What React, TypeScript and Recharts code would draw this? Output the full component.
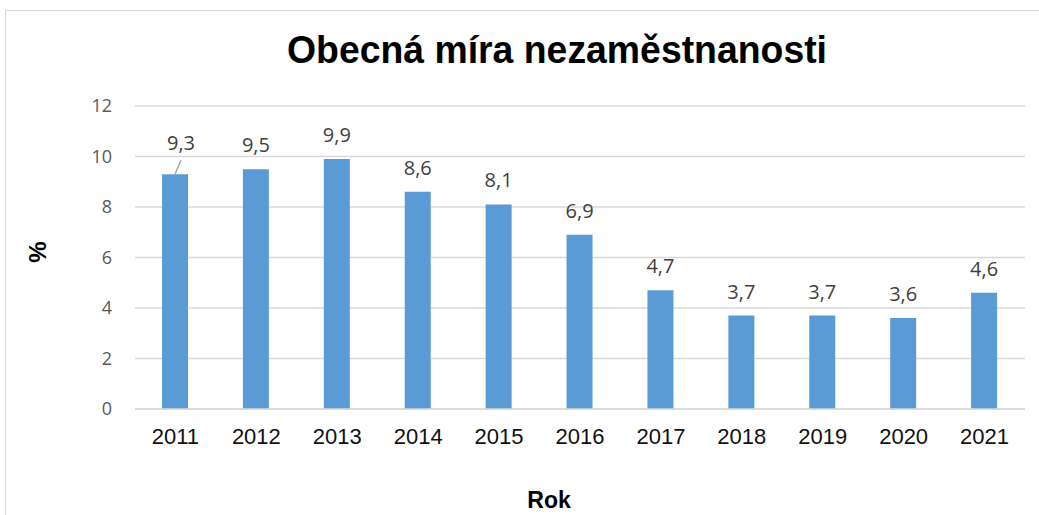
import { Bar, BarChart, CartesianGrid, XAxis, YAxis } from 'recharts';

const years = ['2011', '2012', '2013', '2014', '2015', '2016', '2017', '2018', '2019', '2020', '2021'];
const rates = [9.3, 9.5, 9.9, 8.6, 8.1, 6.9, 4.7, 3.7, 3.7, 3.6, 4.6];
const yTicks = [0, 2, 4, 6, 8, 10, 12];

const data = years.map((year, i) => ({ year, rate: rates[i] }));

const BAR = '#5B9BD5';
const GRID = '#d9d9d9';
const humanist = '"Open Sans", Lato, sans-serif';
const arial = '"Liberation Sans", Arial, sans-serif';

function ValueLabel(props: any) {
  const { x, y, width, value, index } = props;
  const cx = Number(x) + Number(width) / 2;
  const top = Number(y);
  const text = String(value).replace('.', ',');
  // first label sits a bit higher with a leader line, like in Excel
  if (index === 0) {
    return (
      <g>
        <line x1={cx} y1={top} x2={cx + 6} y2={top - 14} stroke="#a6a6a6" strokeWidth={1.5} />
        <text x={cx + 6} y={top - 24} textAnchor="middle" fontSize={20} fill="#404040" fontFamily={humanist}>
          {text}
        </text>
      </g>
    );
  }
  return (
    <text x={cx} y={top - 17} textAnchor="middle" fontSize={20} fill="#404040" fontFamily={humanist}>
      {text}
    </text>
  );
}

export default function App() {
  return (
    <div style={{ position: 'absolute', left: 0, top: 0, width: 1039, height: 515, overflow: 'hidden', background: '#fff' }}>
      <div
        style={{
          position: 'absolute',
          left: 5,
          top: 10,
          width: 1060,
          height: 540,
          border: '1.5px solid #d9d9d9',
        }}
      />
      <BarChart
        width={1039}
        height={515}
        data={data}
        margin={{ top: 106, right: 14, left: 0, bottom: 66 }}
        barSize={26}
        style={{ position: 'absolute', left: 0, top: 0 }}
      >
        <text
          x={557}
          y={63}
          textAnchor="middle"
          fontSize={38}
          fontWeight="bold"
          fontFamily={arial}
          fill="#000"
          textLength={540}
          lengthAdjust="spacingAndGlyphs"
        >
          Obecná míra nezaměstnanosti
        </text>
        <text
          x={0}
          y={0}
          transform="translate(46 252) rotate(-90)"
          textAnchor="middle"
          fontSize={24}
          fontWeight="bold"
          fontFamily={arial}
          fill="#000"
        >
          %
        </text>
        <text x={549} y={508} textAnchor="middle" fontSize={23} fontWeight="bold" fontFamily={arial} fill="#000">
          Rok
        </text>
        <CartesianGrid vertical={false} stroke={GRID} strokeWidth={1.5} />
        <XAxis
          dataKey="year"
          height={40}
          tickLine={false}
          axisLine={{ stroke: GRID, strokeWidth: 1.5 }}
          tickSize={0}
          tickMargin={19}
          tick={{ fontSize: 22, fill: '#111', fontFamily: arial }}
        />
        <YAxis
          width={135}
          domain={[0, 12]}
          ticks={yTicks}
          tickLine={false}
          axisLine={false}
          tickSize={0}
          tickMargin={23}
          tick={{ fontSize: 18, fill: '#595959', fontFamily: humanist }}
        />
        <Bar dataKey="rate" fill={BAR} isAnimationActive={false} label={<ValueLabel />} />
      </BarChart>
    </div>
  );
}
